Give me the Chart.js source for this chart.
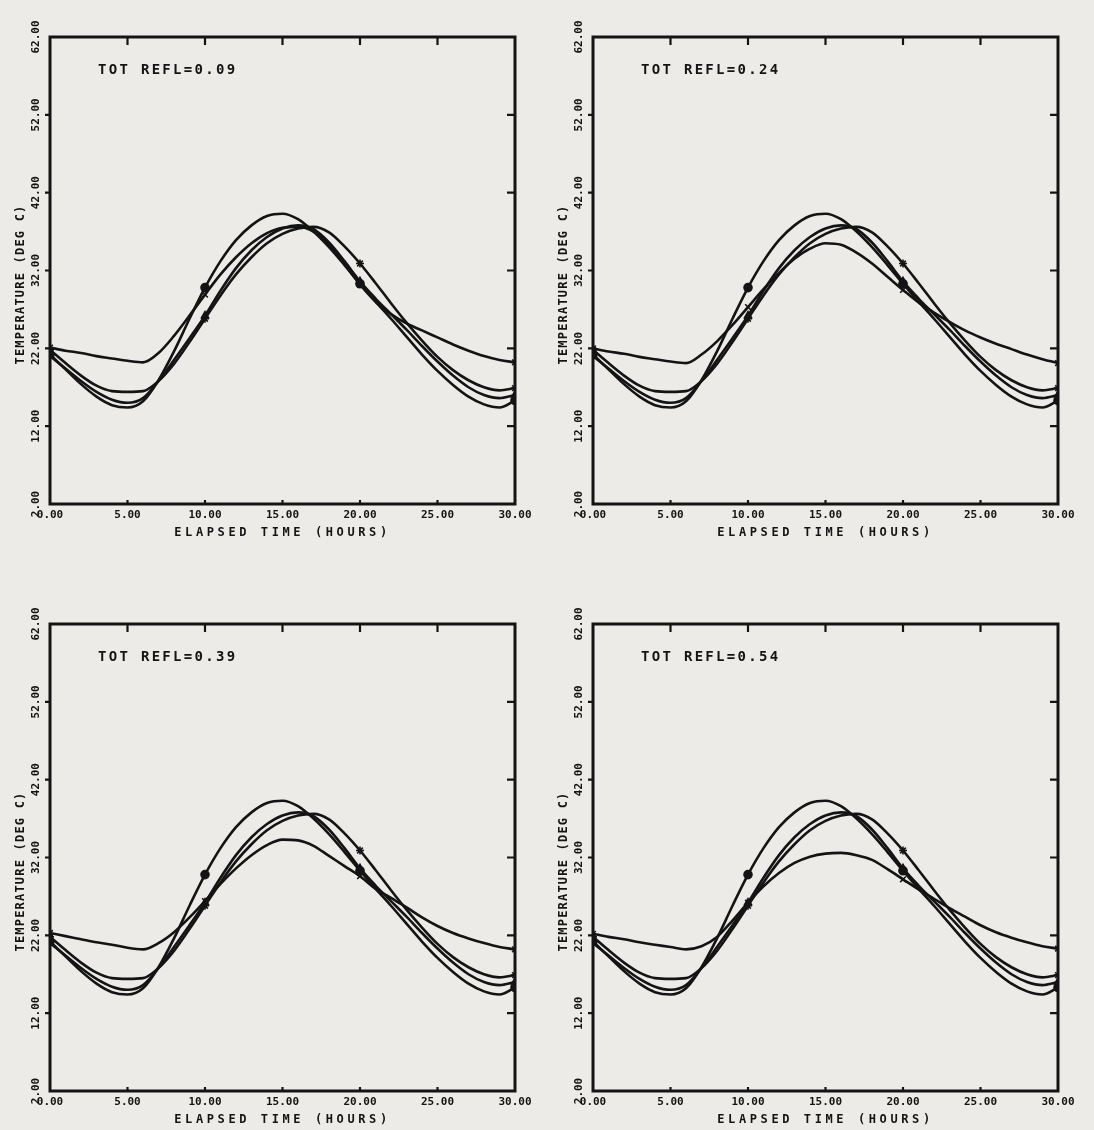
<!DOCTYPE html>
<html>
<head>
<meta charset="utf-8">
<script src="https://cdn.jsdelivr.net/npm/chart.js@4.4.0/dist/chart.umd.min.js"></script>
<style>
  body { margin: 0; background: #ecebe8; width: 1094px; height: 1130px; overflow: hidden; position: relative; }
  canvas { position: absolute; }
</style>
</head>
<body>
<canvas id="p1" width="547" height="543" style="left:0px;top:0px"></canvas>
<canvas id="p2" width="547" height="543" style="left:543px;top:0px"></canvas>
<canvas id="p3" width="547" height="543" style="left:0px;top:587px"></canvas>
<canvas id="p4" width="547" height="543" style="left:543px;top:587px"></canvas>
<script>
// elapsed time (hours) and temperature (deg C)
const hours = [0, 1, 2, 3, 4, 5, 6, 7, 8, 9, 10, 11, 12, 13, 14, 15, 16, 17, 18, 19, 20, 21, 22, 23, 24, 25, 26, 27, 28, 29, 30];
const xTicks = [0, 5, 10, 15, 20, 25, 30];
const yTicks = [2, 12, 22, 32, 42, 52, 62];
const markerHours = [0, 10, 20, 30];

// the three curves that are the same in every panel
const curveA = [21.2, 19.3, 17.4, 15.8, 14.7, 14.4, 15.2, 17.9, 21.6, 25.8, 29.8, 33.2, 35.9, 37.8, 39.0, 39.3, 38.6, 37.0, 35.0, 32.7, 30.3, 28.0, 25.8, 23.5, 21.2, 19.1, 17.3, 15.8, 14.8, 14.4, 15.3];
const curveB = [21.0, 19.4, 17.8, 16.4, 15.4, 15.0, 15.6, 17.8, 20.5, 23.3, 26.2, 29.4, 32.3, 34.6, 36.3, 37.4, 37.8, 37.3, 35.6, 33.2, 30.6, 28.4, 26.4, 24.4, 22.3, 20.3, 18.5, 17.0, 16.0, 15.6, 16.0];
const curveC = [21.8, 20.1, 18.5, 17.2, 16.5, 16.4, 16.5, 17.8, 20.0, 22.8, 25.8, 28.8, 31.5, 33.7, 35.5, 36.7, 37.4, 37.6, 36.9, 35.1, 32.9, 30.4, 27.8, 25.3, 23.0, 20.9, 19.2, 17.9, 17.0, 16.6, 16.9];

// the curve that changes with total reflectance
const reflLabels = ["TOT REFL=0.09", "TOT REFL=0.24", "TOT REFL=0.39", "TOT REFL=0.54"];
const curveD009 = [22.1, 21.7, 21.4, 21.0, 20.7, 20.4, 20.2, 21.4, 23.6, 26.2, 28.9, 31.5, 33.7, 35.5, 36.8, 37.5, 37.6, 37.0, 35.3, 32.8, 30.2, 28.0, 26.4, 25.2, 24.3, 23.4, 22.5, 21.7, 21.0, 20.5, 20.2];
const curveD024 = [22.0, 21.6, 21.3, 20.9, 20.6, 20.3, 20.1, 21.2, 22.9, 25.0, 27.3, 29.6, 31.7, 33.5, 34.8, 35.5, 35.3, 34.3, 32.9, 31.2, 29.5, 27.9, 26.6, 25.4, 24.3, 23.4, 22.6, 21.9, 21.2, 20.6, 20.1];
const curveD039 = [22.3, 21.9, 21.5, 21.1, 20.8, 20.4, 20.2, 21.0, 22.4, 24.3, 26.4, 28.6, 30.6, 32.3, 33.6, 34.3, 34.2, 33.5, 32.2, 30.9, 29.6, 28.0, 26.8, 25.6, 24.3, 23.2, 22.3, 21.6, 21.0, 20.5, 20.2];
const curveD054 = [22.2, 21.8, 21.5, 21.1, 20.8, 20.5, 20.2, 20.6, 21.8, 23.9, 26.2, 28.3, 30.0, 31.3, 32.1, 32.5, 32.6, 32.3, 31.7, 30.5, 29.2, 27.9, 26.7, 25.5, 24.4, 23.3, 22.4, 21.7, 21.1, 20.6, 20.3];

const xTitle = "ELAPSED TIME (HOURS)";
const yTitle = "TEMPERATURE (DEG C)";
const ink = "#141414";
const mono = "'DejaVu Sans Mono', 'Liberation Mono', monospace";

// box round the plot, inward ticks on top / right, small ticks on left / bottom, and the texts
const framePlugin = {
  id: "frame",
  afterDraw(chart, args, opts) {
    const { ctx, chartArea: a, scales } = chart;
    ctx.save();
    ctx.strokeStyle = ink;
    ctx.lineWidth = 3;
    ctx.strokeRect(a.left, a.top, a.right - a.left, a.bottom - a.top);
    ctx.lineWidth = 2.2;
    ctx.beginPath();
    xTicks.slice(1, -1).forEach((v) => {
      const px = scales.x.getPixelForValue(v);
      ctx.moveTo(px, a.top);
      ctx.lineTo(px, a.top + 8);
      ctx.moveTo(px, a.bottom);
      ctx.lineTo(px, a.bottom - 4);
    });
    yTicks.slice(1, -1).forEach((v) => {
      const py = scales.y.getPixelForValue(v);
      ctx.moveTo(a.right, py);
      ctx.lineTo(a.right - 8, py);
      ctx.moveTo(a.left, py);
      ctx.lineTo(a.left - 5, py);
    });
    ctx.stroke();

    ctx.fillStyle = ink;
    ctx.textBaseline = "middle";
    ctx.font = "bold 14px " + mono;
    ctx.letterSpacing = "2.3px";
    ctx.textAlign = "left";
    ctx.fillText(opts.title, a.left + 48, a.top + 33);

    ctx.font = "bold 12px " + mono;
    ctx.letterSpacing = "3.6px";
    ctx.textAlign = "center";
    ctx.fillText(xTitle, (a.left + a.right) / 2, a.bottom + 29);

    ctx.letterSpacing = "1.2px";
    ctx.translate(21, (a.top + a.bottom) / 2 + 14);
    ctx.rotate(-Math.PI / 2);
    ctx.fillText(yTitle, 0, 0);
    ctx.restore();
  },
};

function series(values, style) {
  return {
    data: hours.map((h, i) => ({ x: h, y: values[i] })),
    borderColor: ink,
    borderWidth: 2.6,
    backgroundColor: ink,
    pointStyle: style,
    pointBorderColor: ink,
    pointBackgroundColor: ink,
    pointBorderWidth: 1.6,
    pointRadius: (c) => (c.raw && markerHours.includes(c.raw.x) ? 4 : 0),
    cubicInterpolationMode: "monotone",
    fill: false,
  };
}

function drawPanel(id, title, curveD) {
  const ctx = document.getElementById(id).getContext("2d");
  return new Chart(ctx, {
    type: "line",
    data: {
      datasets: [
        series(curveA, "circle"),
        series(curveB, "triangle"),
        series(curveC, "star"),
        series(curveD, "crossRot"),
      ],
    },
    plugins: [framePlugin],
    options: {
      responsive: false,
      animation: false,
      events: [],
      layout: { padding: { top: 37, right: 32, left: 0, bottom: 0 } },
      plugins: {
        legend: { display: false },
        tooltip: { enabled: false },
        frame: { title: title },
      },
      scales: {
        x: {
          type: "linear",
          min: 0,
          max: 30,
          afterBuildTicks: (s) => {
            s.ticks = xTicks.map((v) => ({ value: v }));
          },
          afterFit: (s) => {
            s.height = 39;
          },
          grid: { display: false, drawTicks: false },
          border: { display: false },
          ticks: {
            color: ink,
            font: { family: mono, size: 11, weight: "bold" },
            padding: 5,
            maxRotation: 0,
            autoSkip: false,
            callback: (v) => Number(v).toFixed(2),
          },
        },
        y: {
          type: "linear",
          min: 2,
          max: 62,
          afterBuildTicks: (s) => {
            s.ticks = yTicks.map((v) => ({ value: v }));
          },
          afterFit: (s) => {
            s.width = 50;
          },
          grid: { display: false, drawTicks: false },
          border: { display: false },
          ticks: {
            color: ink,
            font: { family: mono, size: 11, weight: "bold" },
            minRotation: 90,
            maxRotation: 90,
            crossAlign: "center",
            padding: -3,
            autoSkip: false,
            callback: (v) => Number(v).toFixed(2),
          },
        },
      },
    },
  });
}

drawPanel("p1", reflLabels[0], curveD009);
drawPanel("p2", reflLabels[1], curveD024);
drawPanel("p3", reflLabels[2], curveD039);
drawPanel("p4", reflLabels[3], curveD054);
</script>
</body>
</html>
